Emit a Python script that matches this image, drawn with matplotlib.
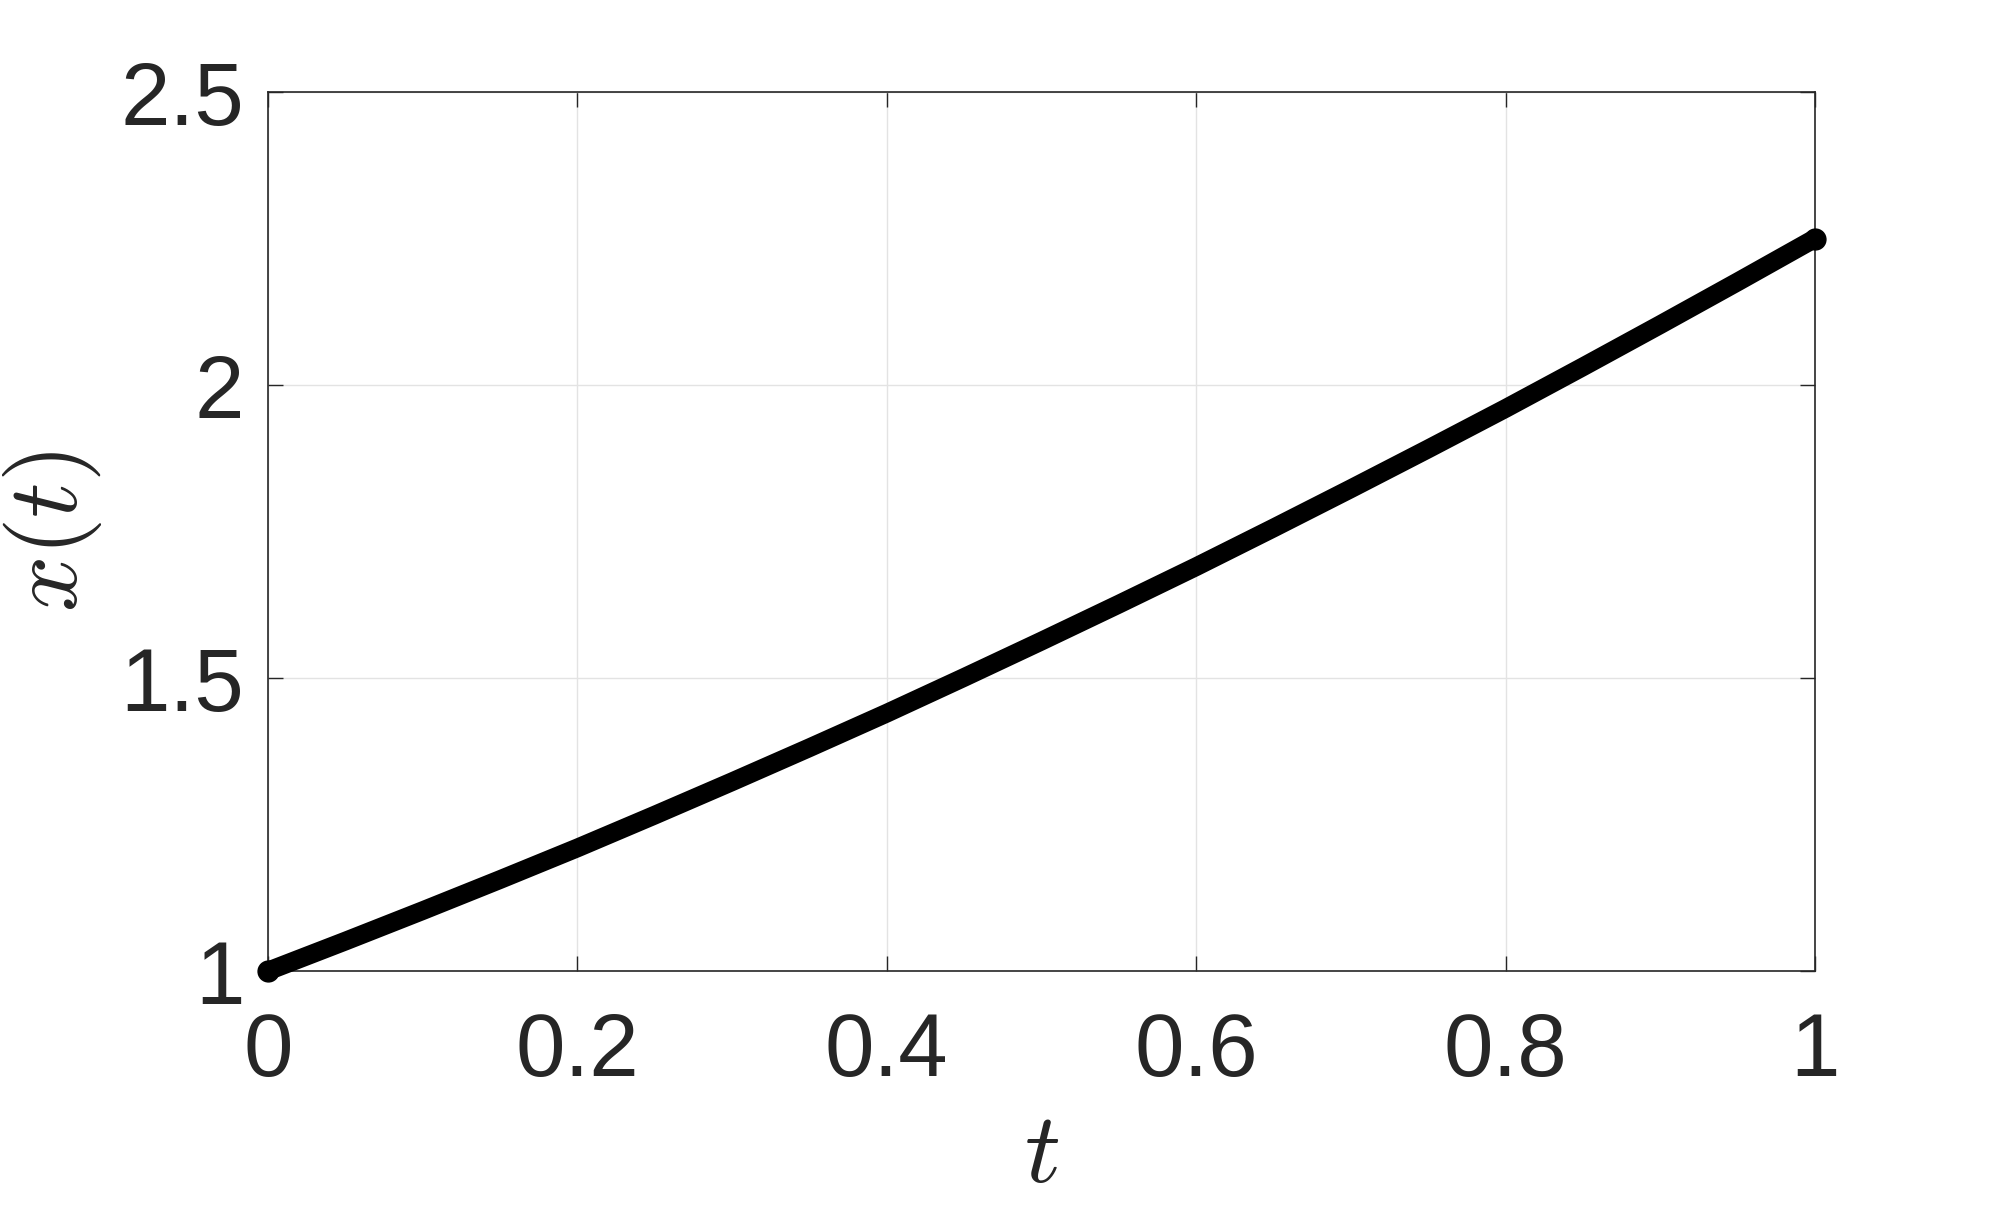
import matplotlib
matplotlib.use("Agg")
import matplotlib.pyplot as plt

# Data
t_values = [0.00, 0.05, 0.10, 0.15, 0.20, 0.25, 0.30, 0.35, 0.40, 0.45, 0.50,
            0.55, 0.60, 0.65, 0.70, 0.75, 0.80, 0.85, 0.90, 0.95, 1.00]
x_values = [1.000, 1.051, 1.103, 1.156, 1.210, 1.266, 1.323, 1.381, 1.440, 1.501, 1.563,
            1.626, 1.690, 1.756, 1.823, 1.891, 1.960, 2.031, 2.103, 2.176, 2.250]
x_ticks = [0, 0.2, 0.4, 0.6, 0.8, 1]
x_tick_labels = ["0", "0.2", "0.4", "0.6", "0.8", "1"]
y_ticks = [1, 1.5, 2, 2.5]
y_tick_labels = ["1", "1.5", "2", "2.5"]

plt.rcParams['mathtext.fontset'] = 'cm'
plt.rcParams['font.family'] = ['Liberation Sans', 'DejaVu Sans']

DPI = 100
fig = plt.figure(figsize=(20.07, 12.18), dpi=DPI)
W, H = 2007, 1218
left, right, top, bottom = 268, 1815, 92, 971
ax = fig.add_axes([left / W, 1 - bottom / H, (right - left) / W, (bottom - top) / H])

ax.plot(t_values, x_values, color='black', lw=13.5, solid_capstyle='round',
        solid_joinstyle='round', zorder=3, clip_on=False)
ax.plot([t_values[0], t_values[-1]], [x_values[0], x_values[-1]], 'o', color='black',
        ms=15, zorder=4, clip_on=False)

ax.set_xlim(0, 1)
ax.set_ylim(1, 2.5)
ax.set_xticks(x_ticks)
ax.set_xticklabels(x_tick_labels)
ax.set_yticks(y_ticks)
ax.set_yticklabels(y_tick_labels)

ax.grid(True, color='#e3e3e3', lw=1.0, zorder=0)
ax.set_axisbelow(True)
for s in ax.spines.values():
    s.set_color('#262626')
    s.set_linewidth(1.2)

ax.tick_params(axis='both', direction='in', length=11, width=1.0, color='#262626',
               labelcolor='#262626', labelsize=64, top=True, right=True)
ax.tick_params(axis='x', pad=29)
ax.tick_params(axis='y', pad=17)

ax.set_xlabel(r'$t$', fontsize=72, color='#262626', labelpad=10)
ax.set_ylabel(r'$x(t)$', fontsize=71, color='#262626', labelpad=12)

fig.savefig('out.png', dpi=DPI, facecolor='white')
